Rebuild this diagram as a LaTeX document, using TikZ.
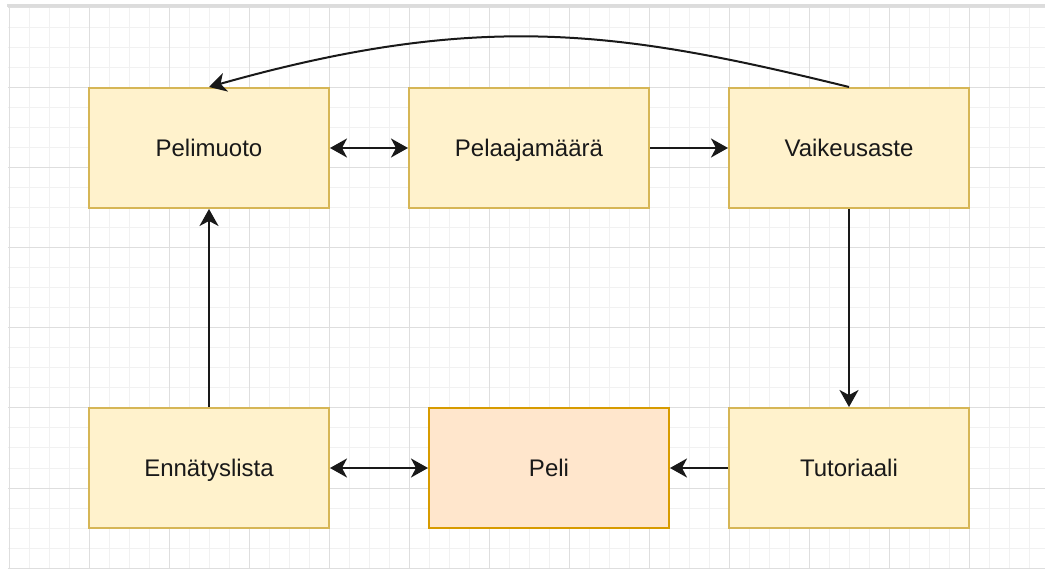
\documentclass[tikz,border=0pt]{standalone}
\usepackage{fontspec}
\setmainfont{Liberation Sans}
\usetikzlibrary{arrows.meta}
\definecolor{boxfill}{HTML}{FFF2CC}
\definecolor{boxline}{HTML}{D6B656}
\definecolor{pelifill}{HTML}{FFE6CC}
\definecolor{peliline}{HTML}{D79B00}
\definecolor{gridminor}{HTML}{F1F1F1}
\definecolor{gridmajor}{HTML}{DEDEDE}
\definecolor{topband}{HTML}{DCDCDC}
\begin{document}
\begin{tikzpicture}[x=1pt,y=-1pt,
  box/.style={draw=boxline, fill=boxfill, line width=2pt, minimum width=240pt,
    minimum height=120pt, inner sep=0pt, text height=17.5pt, text depth=0pt,
    font=\fontsize{24}{28}\selectfont, text=black!90},
  pelibox/.style={box, draw=peliline, fill=pelifill},
  conn/.style={line width=2pt, draw=black!90, -{Stealth[length=17pt,width=19pt,inset=5pt]}},
  conn2/.style={line width=2pt, draw=black!90, {Stealth[length=17pt,width=19pt,inset=5pt]}-{Stealth[length=17pt,width=19pt,inset=5pt]}},
  minorline/.style={draw=gridminor, line width=1pt},
  majorline/.style={draw=gridmajor, line width=1pt}]
\useasboundingbox (0,0) rectangle (1045,569);
\fill[white] (0,0) rectangle (1045,569);
% grid
\foreach \x in {9,29,...,1045} \draw[minorline] (\x,7) -- (\x,569);
\foreach \y in {8,28,...,569} \draw[minorline] (8,\y) -- (1045,\y);
\foreach \x in {9,89,...,1045} \draw[majorline] (\x,7) -- (\x,569);
\foreach \y in {8,88,...,569} \draw[majorline] (8,\y) -- (1045,\y);
\fill[topband] (7,4) rectangle (1045,7);
% nodes
\node[box] (pm) at (209,148) {Pelimuoto};
\node[box] (pa) at (529,148) {Pelaajamäärä};
\node[box] (va) at (849,148) {Vaikeusaste};
\node[box] (en) at (209,468) {Ennätyslista};
\node[pelibox] (pe) at (549,468) {Peli};
\node[box] (tu) at (849,468) {Tutoriaali};
% connectors
\draw[conn2] (pm) -- (pa);
\draw[conn] (pa) -- (va);
\draw[conn] (va) -- (tu);
\draw[conn] (tu) -- (pe);
\draw[conn2] (en) -- (pe);
\draw[conn] (en) -- (pm);
\draw[conn] (va.north) .. controls (621,31) and (482,10) .. (pm.north);
\end{tikzpicture}
\end{document}
